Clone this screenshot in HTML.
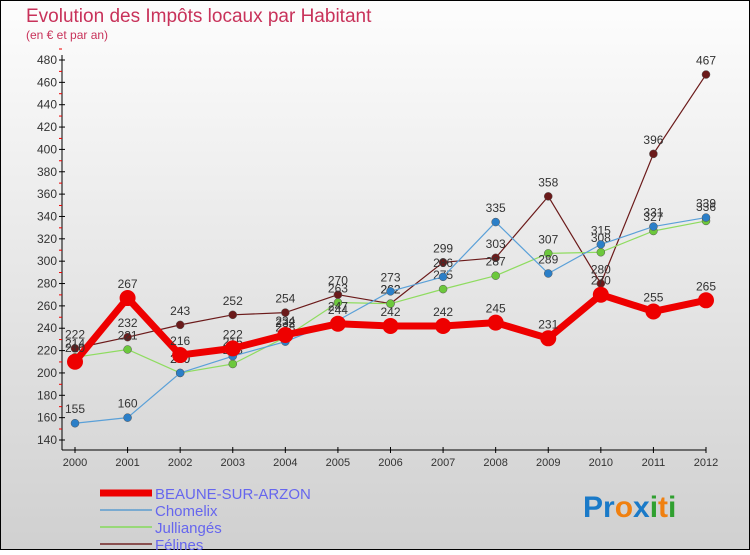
<!DOCTYPE html>
<html><head><meta charset="utf-8"><style>
body{margin:0;width:750px;height:550px;overflow:hidden;font-family:"Liberation Sans",sans-serif}
</style></head><body>
<svg id="c" width="750" height="550" xmlns="http://www.w3.org/2000/svg">
<defs><linearGradient id="bg" x1="0" y1="0" x2="0" y2="1"><stop offset="0" stop-color="#fdfdfd"/><stop offset="1" stop-color="#d0d0d0"/></linearGradient></defs>
<rect x="0.5" y="0.5" width="749" height="549" fill="url(#bg)" stroke="#000"/>
<text x="26" y="22" font-size="19" fill="#c8325a">Evolution des Impôts locaux par Habitant</text>
<text x="26" y="39" font-size="12" fill="#c8325a">(en € et par an)</text>
<g id="axes"></g><g id="series"></g><g id="legend"></g>
<text x="583" y="517" font-size="30" font-weight="bold"><tspan fill="#1a7ac8">Pr</tspan><tspan fill="#f08010">o</tspan><tspan fill="#1a7ac8">x</tspan><tspan fill="#30a030">i</tspan><tspan fill="#f08010">t</tspan><tspan fill="#30a030">i</tspan></text>
</svg>
<script>
const years=[2000,2001,2002,2003,2004,2005,2006,2007,2008,2009,2010,2011,2012];
const yTicks=[140,160,180,200,220,240,260,280,300,320,340,360,380,400,420,440,460,480];
const beaune=[210,267,216,222,234,244,242,242,245,231,270,255,265];
const chomelix=[155,160,200,215,228,247,273,286,335,289,315,331,339];
const jullianges=[214,221,200,208,232,263,262,275,287,307,308,327,336];
const felines=[222,232,243,252,254,270,262,299,303,358,280,396,467];
const NS="http://www.w3.org/2000/svg";
const X=i=>75+i*(706-75)/12;
const Y=v=>440-(v-140)*380/340;
function mk(t,a,p){const e=document.createElementNS(NS,t);for(const k in a)e.setAttribute(k,a[k]);p.appendChild(e);return e;}
const ax=document.getElementById('axes');
let l=mk('line',{x1:62,y1:55,x2:62,y2:450,stroke:'#000'},ax);


l=mk('line',{x1:62,y1:450,x2:706,y2:450,stroke:'#000'},ax);


yTicks.forEach(v=>{
 mk('line',{x1:59,y1:Y(v),x2:65,y2:Y(v),stroke:'#000'},ax);
 mk('line',{x1:59,y1:Y(v)-11,x2:62,y2:Y(v)-11,stroke:'#e00'},ax);
 const t=mk('text',{x:57,y:Y(v)+4,'text-anchor':'end','font-size':12,fill:'#333'},ax);t.textContent=v;
 
 
});
years.forEach((y,i)=>{
 mk('line',{x1:X(i),y1:447,x2:X(i),y2:453,stroke:'#000'},ax);
 const t=mk('text',{x:X(i),y:466,'text-anchor':'middle','font-size':11,fill:'#333'},ax);t.textContent=y;
 
 
});
const sg=document.getElementById('series');
const defs=[[felines,'#6b1a1a','#6b1a1a',1.2,4,'felines'],[jullianges,'#8fdc60','#6cc83c',1.2,4,'jullianges'],[chomelix,'#5aa0d8','#2b7fc8',1.2,4,'chomelix'],[beaune,'#ee0000','#ee0000',7,8,'beaune-sur-arzon']];
defs.forEach(([d,c,dc,w,r,n])=>{
 const g=mk('g',{},sg);
 
 
 const p=mk('polyline',{points:d.map((v,i)=>X(i)+','+Y(v)).join(' '),fill:'none',stroke:c,'stroke-width':w,'stroke-linejoin':'round'},g);
 
 
 d.forEach((v,i)=>{
  const ci=mk('circle',{cx:X(i),cy:Y(v),r:r,fill:dc,stroke:w>2?'none':'#555','stroke-width':0.5},g);
  
  
  const t=mk('text',{x:X(i),y:Y(v)-10,'text-anchor':'middle','font-size':12,fill:'#333'},g);t.textContent=v;
  
  
 });
});
const lg=document.getElementById('legend');
const items=[['BEAUNE-SUR-ARZON','#ee0000',7],['Chomelix','#7aaad0',2],['Julliangés','#98d878',2],['Félines','#8a5050',2]];
items.forEach(([n,c,w],i)=>{
 const y=493+i*17;
 const g=mk('g',{},lg);
 
 
 mk('line',{x1:100,y1:y,x2:152,y2:y,stroke:c,'stroke-width':w},g);
 const t=mk('text',{x:155,y:y+6,'font-size':15,fill:'#6666ee'},g);t.textContent=n;
});
</script>
</body></html>
